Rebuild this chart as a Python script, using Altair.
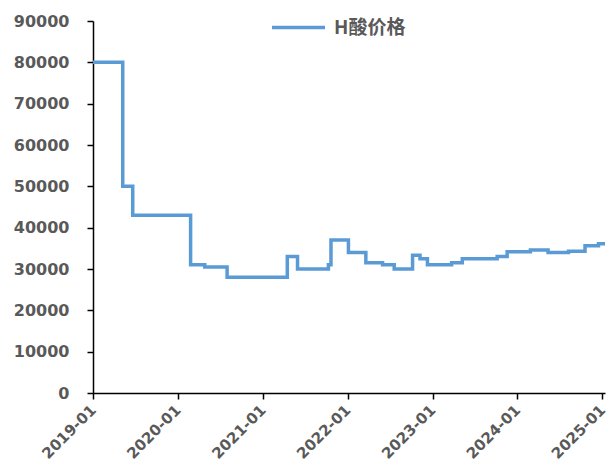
import altair as alt
import pandas as pd

# Change points of the step series (date the new price starts, price in CNY/t)
dates = ["2019-01-01", "2019-05-09", "2019-06-21", "2020-02-25", "2020-04-26",
         "2020-07-31", "2021-04-16", "2021-05-30", "2021-10-10", "2021-10-21",
         "2022-01-04", "2022-03-20", "2022-05-31", "2022-07-20", "2022-10-07",
         "2022-11-08", "2022-12-10", "2023-03-24", "2023-05-09", "2023-10-06",
         "2023-11-18", "2024-02-26", "2024-05-12", "2024-08-08", "2024-10-18",
         "2024-12-15", "2025-01-12"]
prices = [80000, 50000, 43000, 31000, 30500,
          28000, 33000, 30000, 31000, 37000,
          34000, 31500, 31000, 30000, 33300,
          32500, 31000, 31500, 32500, 33000,
          34200, 34600, 34000, 34300, 35600,
          36100, 36100]
series_name = "H酸价格"
year_ticks = [2019, 2020, 2021, 2022, 2023, 2024, 2025]
y_ticks = [0, 10000, 20000, 30000, 40000, 50000, 60000, 70000, 80000, 90000]

df = pd.DataFrame({"date": dates, "price": prices, "series": series_name})

GRAY = "#595959"
BLUE = "#5B9BD5"

chart = alt.Chart(df).mark_line(
    interpolate="step-after", strokeWidth=3.5
).encode(
    x=alt.X(
        "date:T",
        scale=alt.Scale(
            type="utc",
            domain=[alt.DateTime(year=2019, month=1, date=1, utc=True),
                    alt.DateTime(year=2025, month=1, date=12, utc=True)],
            nice=False,
        ),
        axis=alt.Axis(
            title=None,
            values=[alt.DateTime(year=y, month=1, date=1, utc=True) for y in year_ticks],
            format="%Y-%m",
            labelAngle=-45,
            labelAlign="right",
            labelBaseline="middle",
            labelPadding=8,
            labelFont="DejaVu Sans",
            labelFontSize=15,
            labelFontWeight="bold",
            labelColor=GRAY,
            labelOverlap=False,
            labelFlush=False,
            tickSize=6,
            tickColor="#000000",
            tickWidth=1.5,
            domainColor="#000000",
            domainWidth=1.5,
            grid=False,
        ),
    ),
    y=alt.Y(
        "price:Q",
        scale=alt.Scale(domain=[0, 90000], nice=False),
        axis=alt.Axis(
            title=None,
            values=y_ticks,
            format="d",
            labelPadding=18,
            labelFont="DejaVu Sans",
            labelFontSize=16,
            labelFontWeight="bold",
            labelColor=GRAY,
            tickSize=6,
            tickColor="#000000",
            tickWidth=1.5,
            domainColor="#000000",
            domainWidth=1.5,
            grid=False,
        ),
    ),
    color=alt.Color(
        "series:N",
        scale=alt.Scale(range=[BLUE]),
        legend=alt.Legend(
            title=None,
            orient="none",
            legendX=177,
            legendY=-22,
            padding=0,
            symbolType="stroke",
            symbolSize=2809,
            symbolStrokeWidth=3.5,
            labelOffset=7,
            labelFont="Noto Sans CJK SC",
            labelFontSize=19,
            labelFontWeight="bold",
            labelColor=GRAY,
        ),
    ),
).properties(
    width=512,
    height=372,
    autosize=alt.AutoSizeParams(type="none"),
    padding={"left": 85, "top": 13, "right": 3, "bottom": 74},
).configure_view(stroke=None)

chart.save("out.html", embed_options={"renderer": "svg", "actions": False})
